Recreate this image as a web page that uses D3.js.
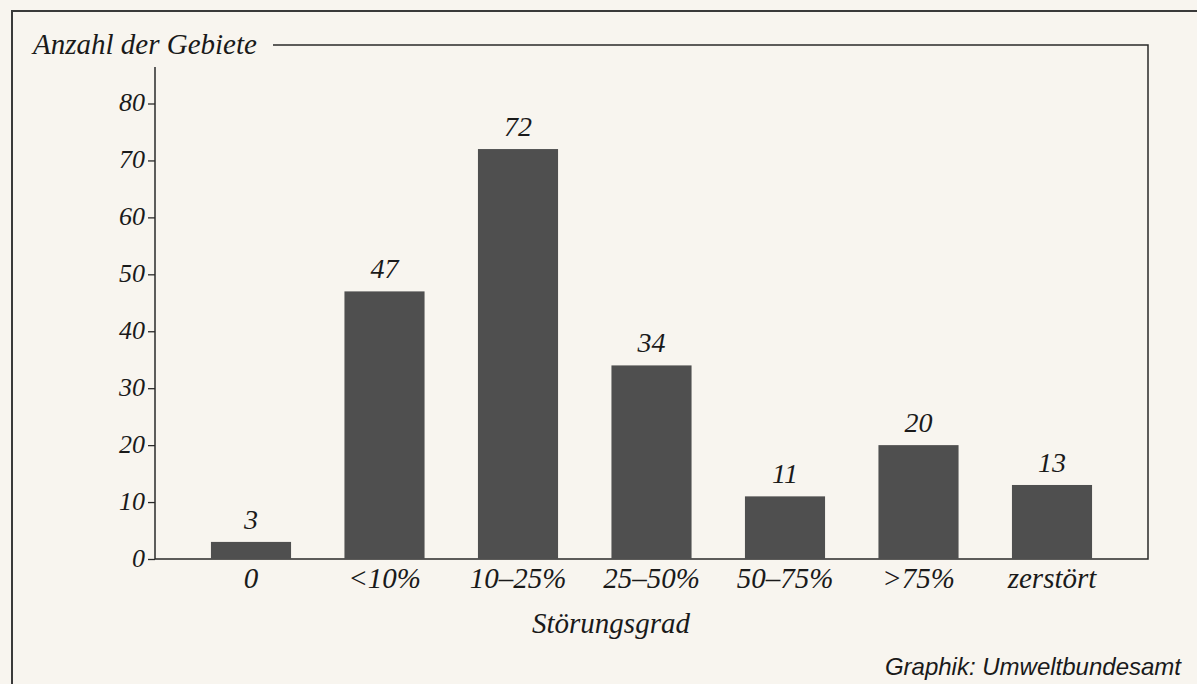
<!DOCTYPE html>
<html>
<head>
<meta charset="utf-8">
<script src="https://cdn.jsdelivr.net/npm/d3@7"></script>
<style>
  html, body { margin: 0; padding: 0; background: #f8f5ef; }
  svg { display: block; }
</style>
</head>
<body>
<svg id="chart" width="1197" height="684"></svg>
<script>
// Anzahl der Gebiete nach Störungsgrad
const categories = ["0", "<10%", "10–25%", "25–50%", "50–75%", ">75%", "zerstört"];
const values = [3, 47, 72, 34, 11, 20, 13];
const yTicks = [0, 10, 20, 30, 40, 50, 60, 70, 80];

const W = 1197, H = 684;
const svg = d3.select("#chart");
const serif = "'Liberation Serif', 'Times New Roman', serif";
const sans = "'Liberation Sans', Arial, Helvetica, sans-serif";
const ink = "#2a2a2a";

svg.append("rect").attr("width", W).attr("height", H).attr("fill", "#f8f5ef");

// outer page frame
svg.append("path")
  .attr("d", `M12,${H} L12,11 L${W},11`)
  .attr("fill", "none").attr("stroke", "#3a3a3a").attr("stroke-width", 2);

// scales
const x = d3.scaleBand()
  .domain(categories)
  .range([184.25, 1118.75])
  .paddingInner(0.4)
  .paddingOuter(0.2);

const y = d3.scaleLinear().domain([0, 80]).range([559, 103.5]);

const axisX = 155, frameRight = 1148, frameTop = 45;

// chart frame: top rule after the title, right edge, baseline
svg.append("path")
  .attr("d", `M273,${frameTop} L${frameRight},${frameTop} L${frameRight},${y(0)} L${axisX},${y(0)}`)
  .attr("fill", "none").attr("stroke", ink).attr("stroke-width", 1.5);

// y axis
const yAxis = d3.axisLeft(y).tickValues(yTicks).tickSize(7).tickPadding(3).tickFormat(d3.format("d"));
const gy = svg.append("g").attr("transform", `translate(${axisX},0)`).call(yAxis);
gy.select(".domain").remove();
gy.selectAll(".tick line").attr("stroke", ink).attr("stroke-width", 1.3);
gy.selectAll(".tick text")
  .attr("fill", "#1a1a1a")
  .style("font-family", serif).style("font-style", "italic").style("font-size", "26px")
  .attr("dy", "0.28em");
svg.append("line")
  .attr("x1", axisX).attr("x2", axisX).attr("y1", 67).attr("y2", y(0))
  .attr("stroke", ink).attr("stroke-width", 1.5);

// bars
svg.append("g").selectAll("rect").data(values).join("rect")
  .attr("x", (d, i) => x(categories[i]))
  .attr("width", x.bandwidth())
  .attr("y", d => y(d))
  .attr("height", d => y(0) - y(d))
  .attr("fill", "#4f4f4f");

// value labels
svg.append("g").selectAll("text").data(values).join("text")
  .attr("x", (d, i) => x(categories[i]) + x.bandwidth() / 2)
  .attr("y", d => y(d) - 13)
  .attr("text-anchor", "middle")
  .attr("fill", "#1a1a1a")
  .style("font-family", serif).style("font-style", "italic").style("font-size", "28px")
  .text(d => d);

// x axis labels
const xAxis = d3.axisBottom(x).tickSize(0).tickPadding(0);
const gx = svg.append("g").attr("transform", `translate(0,${y(0)})`).call(xAxis);
gx.select(".domain").remove();
gx.selectAll(".tick text")
  .attr("y", 29).attr("dy", 0)
  .attr("fill", "#1a1a1a")
  .style("font-family", serif).style("font-style", "italic").style("font-size", "29px");

// titles
svg.append("text")
  .attr("x", 33).attr("y", 54)
  .attr("fill", "#1a1a1a")
  .style("font-family", serif).style("font-style", "italic").style("font-size", "29px")
  .text("Anzahl der Gebiete");

svg.append("text")
  .attr("x", 611).attr("y", 633)
  .attr("text-anchor", "middle")
  .attr("fill", "#1a1a1a")
  .style("font-family", serif).style("font-style", "italic").style("font-size", "29px")
  .text("Störungsgrad");

svg.append("text")
  .attr("x", 1181).attr("y", 675)
  .attr("text-anchor", "end")
  .attr("fill", "#1a1a1a")
  .style("font-family", sans).style("font-style", "italic").style("font-size", "24px")
  .text("Graphik: Umweltbundesamt");
</script>
</body>
</html>
